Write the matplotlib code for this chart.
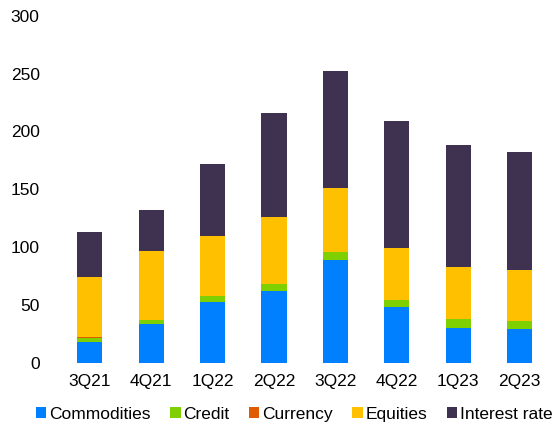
import matplotlib
matplotlib.use("Agg")
import matplotlib.pyplot as plt
import numpy as np

plt.rcParams['font.family'] = ['Liberation Sans', 'DejaVu Sans']

quarters = ["3Q21", "4Q21", "1Q22", "2Q22", "3Q22", "4Q22", "1Q23", "2Q23"]
commodities = [18, 34, 52.5, 62, 89, 48, 30.5, 29.5]
credit = [3.5, 3, 5, 6, 7, 6, 7.5, 7]
currency = [0.5, 0.1, 0.1, 0.1, 0.1, 0.1, 0.1, 0.1]
equities = [52, 59.5, 52, 58, 55, 45, 44.5, 43.5]
interest_rate = [39, 35.5, 62.5, 89.5, 101.5, 110, 105.5, 102]

series = [("Commodities", commodities, "#0080FF"),
          ("Credit", credit, "#7ED000"),
          ("Currency", currency, "#E05A00"),
          ("Equities", equities, "#FFC000"),
          ("Interest rate", interest_rate, "#3F3150")]

fig = plt.figure(figsize=(5.58, 4.26), dpi=100)
ax = fig.add_axes([0.106, 0.148, 0.88, 0.815])
x = np.arange(len(quarters))
bottom = np.zeros(len(quarters))
for name, vals, col in series:
    ax.bar(x, vals, bottom=bottom, width=0.41, color=col, label=name)
    bottom += np.array(vals)

ax.set_ylim(0, 300)
ax.set_yticks(range(0, 301, 50))
ax.set_xlim(-0.5, len(quarters) - 0.5)
ax.set_xticks(x)
ax.set_xticklabels(quarters)
for s in ax.spines.values():
    s.set_visible(False)
ax.tick_params(length=0, labelsize=12.5, colors="#000000")
ax.tick_params(axis='y', pad=14)
ax.tick_params(axis='x', pad=8)

leg = fig.legend(loc="lower center", bbox_to_anchor=(0.527, -0.027), ncol=5, frameon=False,
                 fontsize=12.5, handlelength=0.6, handleheight=0.6, handletextpad=0.15,
                 columnspacing=1.13)
fig.savefig("out.png", dpi=100)
